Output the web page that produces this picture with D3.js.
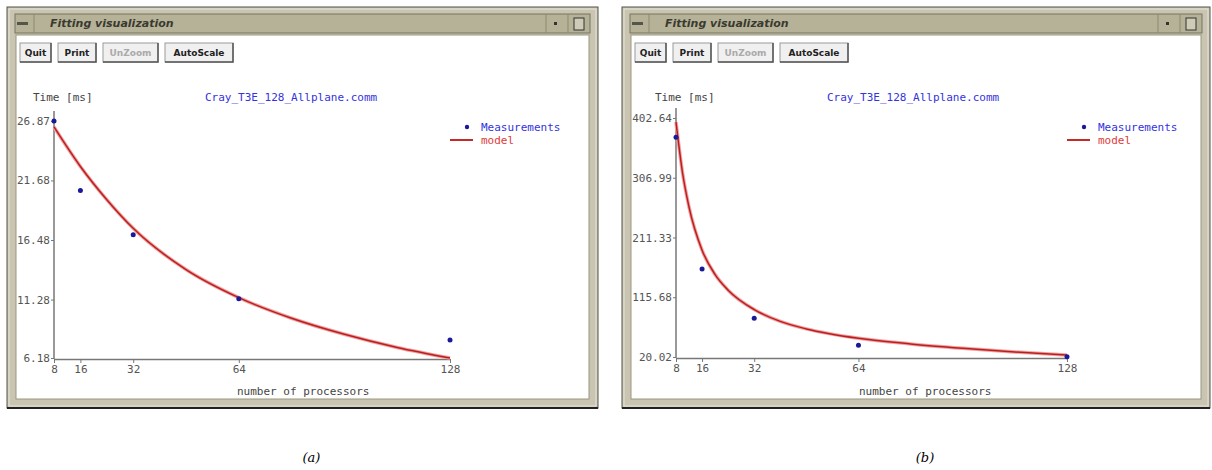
<!DOCTYPE html>
<html>
<head>
<meta charset="utf-8">
<style>
	body { margin:0; background:#ffffff; }
	text { font-family: "DejaVu Sans Mono", monospace; }
</style>
</head>
<body>
<svg id="screen" width="1212" height="470"></svg>
<script src="https://cdnjs.cloudflare.com/ajax/libs/d3/7.8.5/d3.min.js"></script>
<script>

	// measured points
	var procs = [8, 16, 32, 64, 128];
	var measA = [26.87, 20.8, 16.95, 11.35, 7.75];
	var measB = [372, 161, 82, 39, 20.5];

	// fitted model
	var modelProcsA = [8, 16, 24, 32, 48, 64, 80, 96, 112, 128];
	var modelA = [26.35, 22.9, 20.0, 17.5, 13.9, 11.45, 9.65, 8.25, 7.1, 6.18];
	var modelProcsB = [8, 10, 12, 16, 20, 24, 32, 40, 48, 64, 80, 96, 112, 128];
	var modelB = [396, 315, 260, 191, 152, 127, 96, 77, 65, 50, 41, 34, 28, 23];

	// axis ticks
	var yTicksA = [6.18, 11.28, 16.48, 21.68, 26.87];
	var yTicksB = [20.02, 115.68, 211.33, 306.99, 402.64];
	var buttons = ["Quit", "Print", "UnZoom", "AutoScale"];

	var panels = [
		{ x0: 7, w: 591, meas: measA, mp: modelProcsA, model: modelA, ticks: yTicksA, xr: [54, 450], yr: [358, 121], cap: "(a)" },
		{ x0: 622, w: 588, meas: measB, mp: modelProcsB, model: modelB, ticks: yTicksB, xr: [676, 1067], yr: [357, 118], cap: "(b)" }
	];

	var svg = d3.select("#screen");

	function drawWindow(p){
		var g = svg.append("g");
		var x0 = p.x0, y0 = 7, w = p.w, h = 401;

		// frame
		g.append("rect").attr("x", x0).attr("y", y0).attr("width", w).attr("height", h)
			.attr("fill", "#c9c5b2").attr("stroke", "#55554a").attr("stroke-width", 1);
		g.append("rect").attr("x", x0 + 2).attr("y", y0 + 2).attr("width", w - 4).attr("height", h - 4)
			.attr("fill", "none").attr("stroke", "#e6e3d4").attr("stroke-width", 1);
		g.append("line").attr("x1", x0).attr("x2", x0 + w).attr("y1", y0 + h).attr("y2", y0 + h)
			.attr("stroke", "#222").attr("stroke-width", 2);

		// title bar
		g.append("rect").attr("x", x0 + 8).attr("y", y0 + 7).attr("width", w - 16).attr("height", 19)
			.attr("fill", "#b6b298").attr("stroke", "#77745f");
		g.append("rect").attr("x", x0 + 10).attr("y", y0 + 15).attr("width", 11).attr("height", 3)
			.attr("fill", "#55554a");
		g.append("line").attr("x1", x0 + 27).attr("x2", x0 + 27).attr("y1", y0 + 7).attr("y2", y0 + 26)
			.attr("stroke", "#8c8972");
		g.append("text").attr("x", x0 + 43).attr("y", y0 + 20)
			.style("font-family", "'DejaVu Sans', sans-serif").style("font-style", "italic")
			.style("font-weight", "bold").style("font-size", "11px").attr("fill", "#3a3a30")
			.text("Fitting visualization");
		g.append("line").attr("x1", x0 + w - 52).attr("x2", x0 + w - 52).attr("y1", y0 + 7).attr("y2", y0 + 26)
			.attr("stroke", "#8c8972");
		g.append("rect").attr("x", x0 + w - 44).attr("y", y0 + 15).attr("width", 3).attr("height", 3)
			.attr("fill", "#333");
		g.append("line").attr("x1", x0 + w - 30).attr("x2", x0 + w - 30).attr("y1", y0 + 7).attr("y2", y0 + 26)
			.attr("stroke", "#8c8972");
		g.append("rect").attr("x", x0 + w - 24).attr("y", y0 + 11).attr("width", 10).attr("height", 12)
			.attr("fill", "#cfcbb6").attr("stroke", "#333");

		// client area
		g.append("rect").attr("x", x0 + 9).attr("y", y0 + 28).attr("width", w - 18).attr("height", h - 37)
			.attr("fill", "#ffffff").attr("stroke", "#9a977f");

		// buttons
		var bx = x0 + 13;
		buttons.forEach(function(b, i){
			var bw = [31, 38, 55, 68][i];
			var bg = g.append("g");
			bg.append("rect").attr("x", bx).attr("y", y0 + 36).attr("width", bw).attr("height", 19)
				.attr("fill", "#f0f0f0").attr("stroke", "#999");
			bg.append("path").attr("d", "M" + bx + "," + (y0 + 55) + "h" + bw + "v-19")
				.attr("fill", "none").attr("stroke", "#555").attr("stroke-width", 1.5);
			bg.append("text").attr("x", bx + bw / 2).attr("y", y0 + 49).attr("text-anchor", "middle")
				.style("font-family", "'DejaVu Sans', sans-serif").style("font-weight", "bold")
				.style("font-size", "9px").attr("fill", i == 2 ? "#aaa" : "#222")
				.text(b);
			bx += bw + 7;
		});

		// axes
		var x = d3.scaleLinear().domain([8, 128]).range(p.xr);
		var y = d3.scaleLinear().domain([p.ticks[0], p.ticks[p.ticks.length - 1]]).range(p.yr);

		var ya = g.append("g").attr("transform", "translate(" + p.xr[0] + ",0)")
			.call(d3.axisLeft(y).tickValues(p.ticks).tickFormat(d3.format(".2f")).tickSize(3).tickSizeOuter(0));
		ya.select(".domain").attr("d", "M0," + (p.yr[0] + 1) + "V" + (p.yr[1] - 10));
		var xa = g.append("g").attr("transform", "translate(0," + (p.yr[0] + 1) + ")")
			.call(d3.axisBottom(x).tickValues(procs).tickSize(4).tickSizeOuter(0));
		[ya, xa].forEach(function(a){
			a.select(".domain").attr("stroke", "#777").attr("stroke-width", 1.5);
			a.selectAll(".tick line").attr("stroke", "#777");
			a.selectAll(".tick text").style("font-family", "'DejaVu Sans Mono', monospace")
				.style("font-size", "11px").attr("fill", "#555");
		});
		ya.selectAll(".tick text").attr("x", -4);
		xa.selectAll(".tick text").attr("y", 6);

		// labels
		g.append("text").attr("x", p.xr[0] - 21).attr("y", 101).style("font-size", "11px").attr("fill", "#444")
			.text("Time [ms]");
		g.append("text").attr("x", p.xr[0] + 151).attr("y", 101).style("font-size", "11px").attr("fill", "#3333dd")
			.text("Cray_T3E_128_Allplane.comm");
		g.append("text").attr("x", p.xr[0] + 183).attr("y", 395).style("font-size", "11px").attr("fill", "#444")
			.text("number of processors");

		// legend
		var lx = p.xr[1] + 17;
		g.append("circle").attr("cx", lx).attr("cy", 127).attr("r", 2.2).attr("fill", "#1a1a99");
		g.append("text").attr("x", lx + 14).attr("y", 131).style("font-size", "11px").attr("fill", "#3333dd")
			.text("Measurements");
		g.append("line").attr("x1", lx - 17).attr("x2", lx + 6).attr("y1", 140).attr("y2", 140)
			.attr("stroke", "#c82828").attr("stroke-width", 2);
		g.append("text").attr("x", lx + 14).attr("y", 144).style("font-size", "11px").attr("fill", "#e03a3a")
			.text("model");

		// model curve
		var line = d3.line().x(function(d){ return x(d[0]); }).y(function(d){ return y(d[1]); })
			.curve(d3.curveMonotoneX);
		var pts = d3.zip(p.mp, p.model);
		g.append("path").datum(pts).attr("d", line).attr("fill", "none")
			.attr("stroke", "#f2a0a0").attr("stroke-width", 3.5);
		g.append("path").datum(pts).attr("d", line).attr("fill", "none")
			.attr("stroke", "#b82020").attr("stroke-width", 1.5);

		// measurements
		g.selectAll(".pt").data(d3.zip(procs, p.meas)).enter().append("circle")
			.attr("cx", function(d){ return x(d[0]); }).attr("cy", function(d){ return y(d[1]); })
			.attr("r", 2.5).attr("fill", "#1a1a99");

		// caption
		g.append("text").attr("x", x0 + w / 2 + 9).attr("y", 462).attr("text-anchor", "middle")
			.style("font-family", "'DejaVu Serif', serif").style("font-style", "italic").style("font-size", "13px")
			.attr("fill", "#000").text(p.cap);
	}

	panels.forEach(drawWindow);
</script>
</body>
</html>
